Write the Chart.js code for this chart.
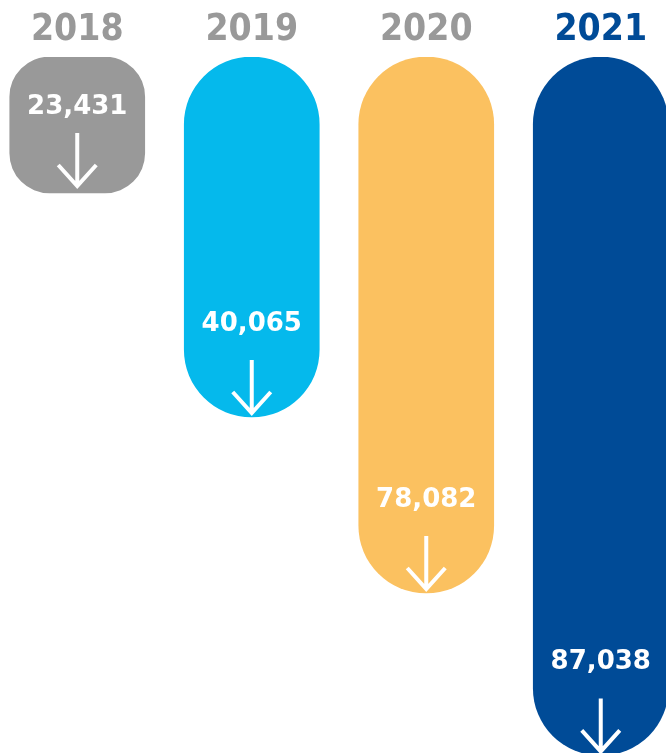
<!DOCTYPE html>
<html>
<head>
<meta charset="utf-8">
<script src="https://cdn.jsdelivr.net/npm/chart.js@4.4.1/dist/chart.umd.min.js"></script>
<style>
  html, body { margin: 0; padding: 0; background: #fff; overflow: hidden; width: 666px; height: 753px; }
  #wrap { position: absolute; left: -10px; top: 0; width: 698px; height: 777px; }
</style>
</head>
<body>
<div id="wrap"><canvas id="chart" width="698" height="777"></canvas></div>
<script>
const years = ['2018', '2019', '2020', '2021'];
// totals printed inside the bars
const totals = [23431, 40065, 78082, 87038];
// how far each bar reaches down, in the same units (estimated from the picture,
// the original graphic does not draw them to scale)
const barReach = [17000, 45000, 67000, 87300];

const barColors = ['#999999', '#05b9ec', '#fbc160', '#004b97'];
const yearColors = ['#999999', '#999999', '#999999', '#004b97'];

const barLabels = {
  id: 'barLabels',
  afterDatasetsDraw(chart) {
    const { ctx } = chart;
    const meta = chart.getDatasetMeta(0);
    meta.data.forEach((bar, i) => {
      const cx = bar.x;
      const bottom = bar.y;
      const h = bar.y - bar.base;
      // the short bar gets its text and arrow pulled up a bit
      const short = h < 200;
      const lift = short ? 79 : 86;
      const tip = bottom - (short ? 7 : 4);

      ctx.save();
      ctx.textAlign = 'center';
      ctx.textBaseline = 'alphabetic';

      // year above the bar
      ctx.fillStyle = yearColors[i];
      ctx.font = 'bold 37px "DejaVu Sans Condensed"';
      ctx.fillText(years[i], cx, 40);

      // total
      ctx.fillStyle = '#ffffff';
      ctx.font = 'bold 26px "DejaVu Sans"';
      ctx.fillText(totals[i].toLocaleString('en-US'), cx, bottom - lift);

      // down arrow
      ctx.strokeStyle = '#ffffff';
      ctx.lineWidth = 4;
      ctx.beginPath();
      ctx.moveTo(cx, tip - 53);
      ctx.lineTo(cx, tip - 1);
      ctx.moveTo(cx - 19, tip - 21);
      ctx.lineTo(cx, tip);
      ctx.lineTo(cx + 19, tip - 21);
      ctx.stroke();
      ctx.restore();
    });
  },
};

new Chart(document.getElementById('chart'), {
  type: 'bar',
  data: {
    labels: years,
    datasets: [{
      data: barReach,
      backgroundColor: barColors,
      borderWidth: 0,
      borderSkipped: false,
      borderRadius: [40, 68, 68, 68],
      barThickness: 135,
    }],
  },
  options: {
    responsive: false,
    animation: false,
    layout: { padding: { top: 57, left: 0, right: 0, bottom: 0 } },
    plugins: {
      legend: { display: false },
      tooltip: { enabled: false },
    },
    scales: {
      x: { display: false },
      y: {
        display: false,
        reverse: true,
        min: 0,
        max: 90000,
      },
    },
  },
  plugins: [barLabels],
});
</script>
</body>
</html>
